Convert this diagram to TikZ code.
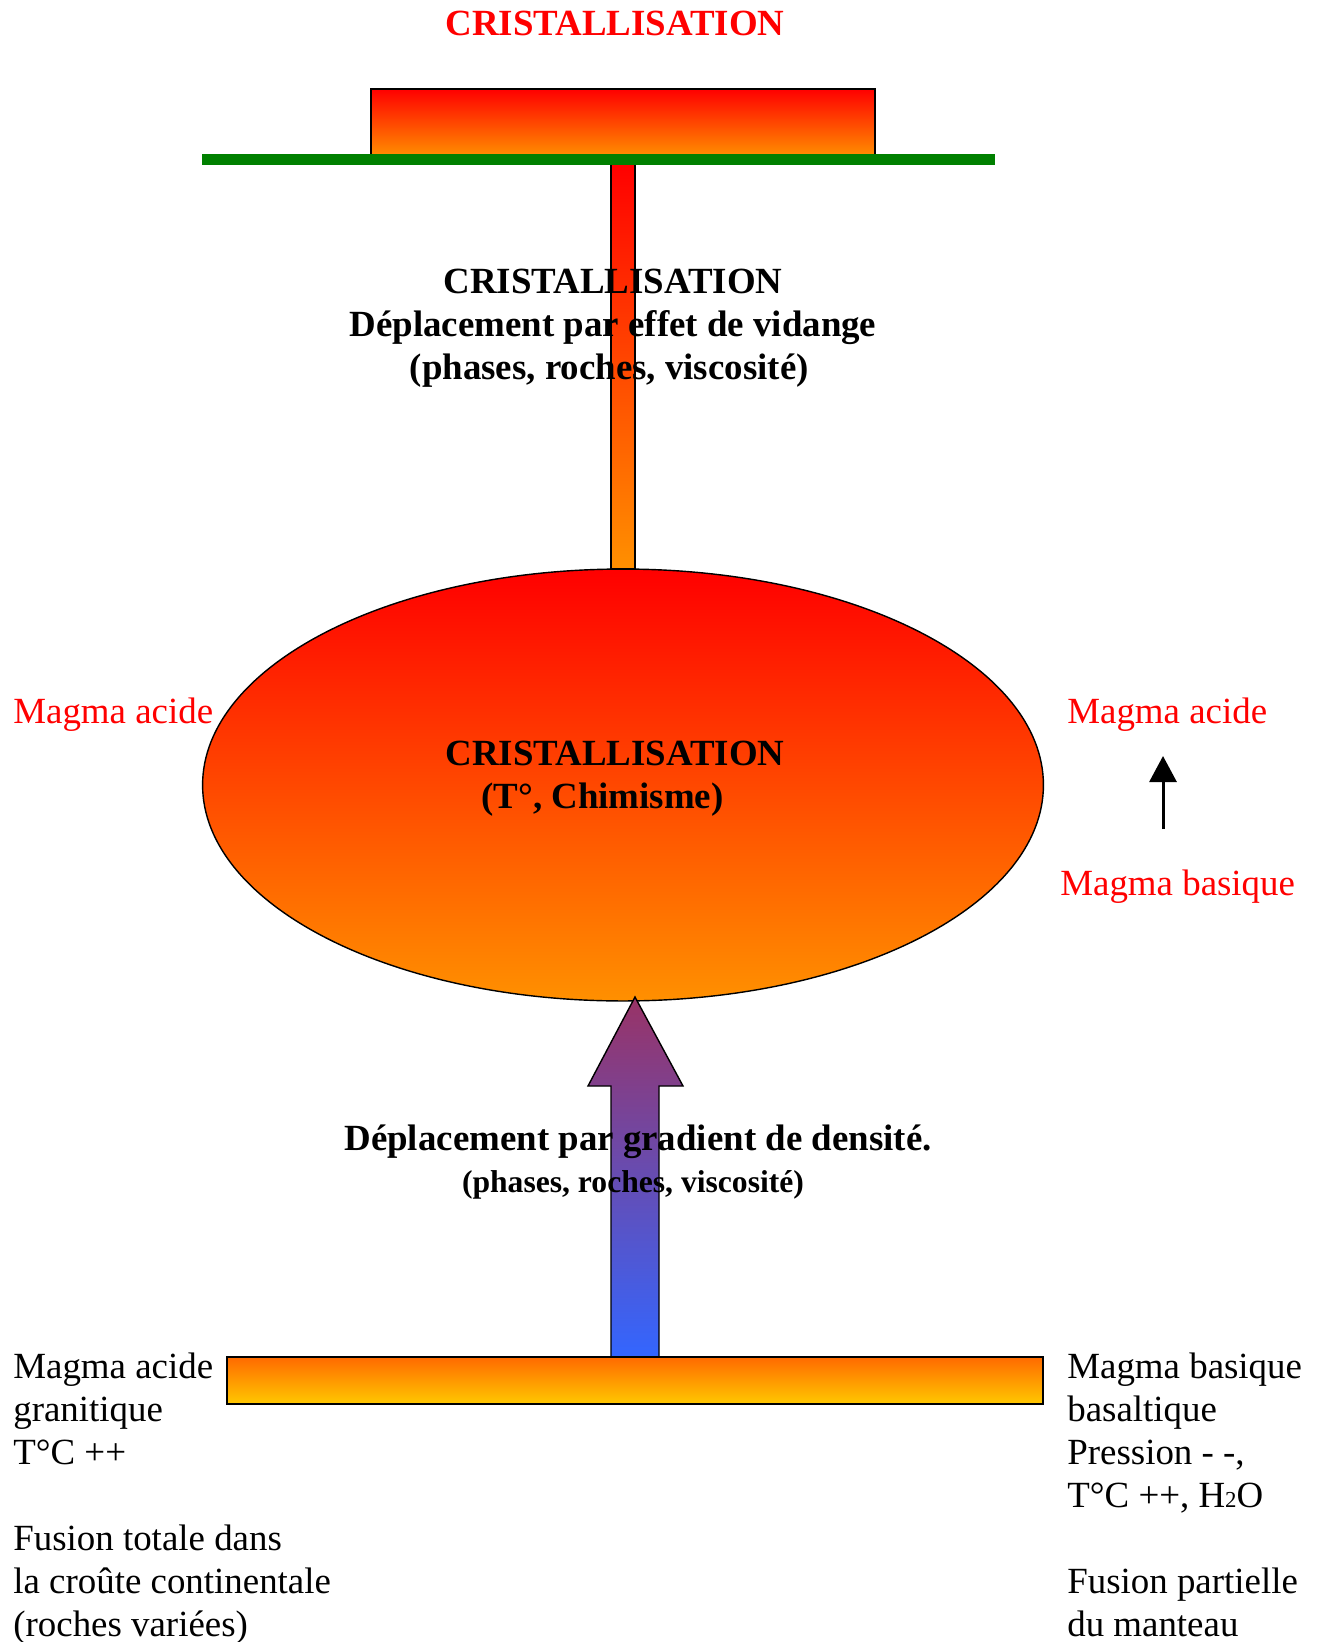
\documentclass[tikz,border=0pt]{standalone}
\usepackage{fontspec}
\setmainfont{Liberation Serif}
\usepackage{tikz}
\usetikzlibrary{arrows.meta, positioning, shapes.geometric}

\definecolor{lavared}{HTML}{FF0000}
\definecolor{lavaorange}{HTML}{FF9000}
\definecolor{meltorange}{HTML}{FF6A00}
\definecolor{meltyellow}{HTML}{FFC800}
\definecolor{risepurple}{HTML}{993366}
\definecolor{riseblue}{HTML}{3366FF}
\definecolor{groundgreen}{HTML}{008000}

\begin{document}
\begin{tikzpicture}[x=0.02cm, y=-0.02cm,
    bigfont/.style={font=\fontsize{21}{24.4}\selectfont},
    redlabel/.style={bigfont, text=red, inner sep=0pt, anchor=west},
    infotext/.style={bigfont, align=left, inner sep=0pt, anchor=north west},
    boldtext/.style={bigfont, font=\fontsize{21}{24.4}\selectfont\bfseries, align=center, inner sep=0pt},
    outline/.style={draw=black, line width=0.8pt}]

\useasboundingbox (0,0) rectangle (1323,1642);

% conduit and surface
\shade[outline, top color=lavared, bottom color=lavaorange] (611,163) rectangle (635,569);
\shade[outline, top color=lavared, bottom color=lavaorange] (371,89) rectangle (875,157);
\draw[groundgreen, line width=0.22cm] (202,160) -- (995,160);

% magma chamber
\node[ellipse, outline, top color=lavared, bottom color=lavaorange, inner sep=0pt,
      minimum width=16.82cm, minimum height=8.64cm] (chamber) at (623,785) {};

% rising arrow
\shade[outline, top color=risepurple, bottom color=riseblue]
    (611,1357) -- (611,1086) -- (588,1086) -- (635,997) -- (683,1086)
    -- (659,1086) -- (659,1357) -- cycle;

% melting zone
\shade[outline, top color=meltorange, bottom color=meltyellow] (227,1357) rectangle (1043,1404);

% texts
\node[boldtext, text=red] (title) at (615,23) {CRISTALLISATION};
\node[boldtext] (vidange) at (613,328) {CRISTALLISATION\\D\'eplacement par effet de vidange\\(phases, roches, viscosit\'e)\hspace*{0.15cm}};
\node[boldtext] (chimisme) at (615,779) {CRISTALLISATION\\(T°, Chimisme)\hspace*{0.5cm}};
\node[boldtext] (gradient) at (638,1162) {D\'eplacement par gradient de densit\'e.\\{\fontsize{18}{20}\selectfont (phases, roches, viscosit\'e)}\hspace*{0.2cm}};

\node[redlabel] (acidL) at (13,715) {Magma acide};
\node[redlabel] (acidR) at (1067,715) {Magma acide};
\node[redlabel] (basicR) at (1060,887) {Magma basique};

\coordinate (arrlow) at (1163,829);
\coordinate (arrtop) at (1163,756);
\draw[line width=1.7pt, -{Triangle[width=0.54cm, length=0.52cm]}] (arrlow) -- (arrtop);

\node[infotext] (granite) at (13,1353) {Magma acide\\granitique\\T°C ++\\[24.4pt]Fusion totale dans\\la cro\^ute continentale\\(roches vari\'ees)};
\node[infotext] (basalt) at (1067,1353) {Magma basique\\basaltique\\Pression - -,\\T°C ++, H{\fontsize{13}{13}\selectfont 2}O\\[24.4pt]Fusion partielle\\du manteau};

\end{tikzpicture}
\end{document}
